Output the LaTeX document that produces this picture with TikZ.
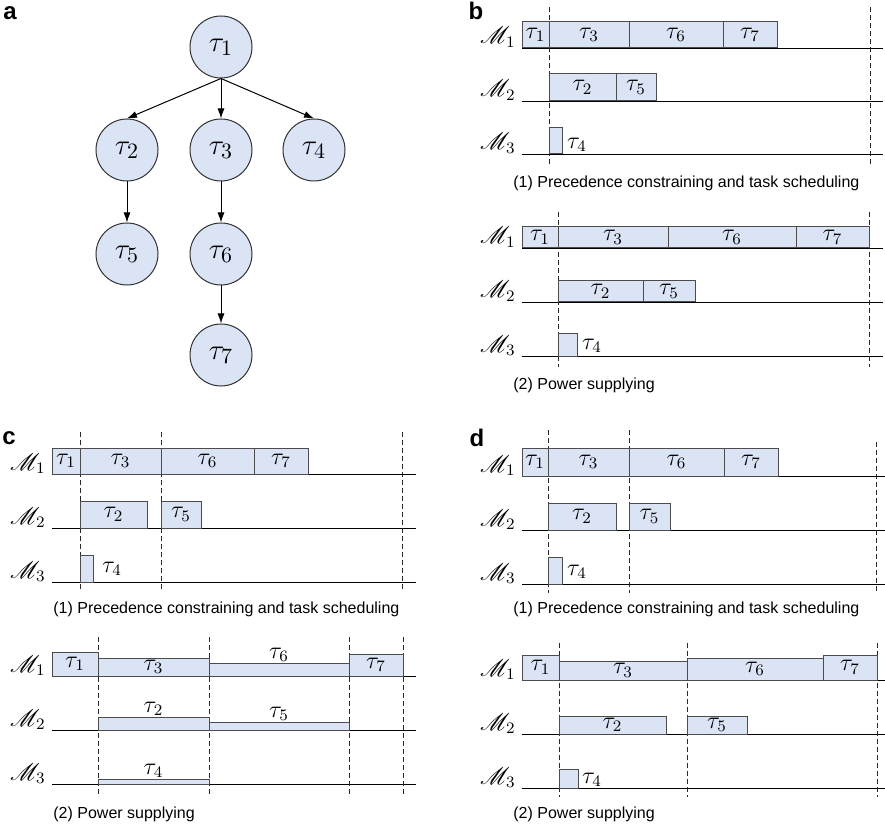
\documentclass[tikz,border=0pt]{standalone}
\usepackage{amsmath, amssymb}
\usepackage{mathrsfs}
\usepackage{fontspec}
\setmainfont{Liberation Sans}
\usepackage{tikz}
\usetikzlibrary{arrows.meta, positioning}

\definecolor{taskfill}{RGB}{218,228,245}

\begin{document}
\begin{tikzpicture}[x=0.5pt, y=-0.5pt, every node/.style={inner sep=0pt},
  task/.style={circle, draw=black!80, fill=taskfill, line width=0.5pt, minimum size=31pt, font=\fontsize{15}{17}\selectfont},
  dep/.style={-{Latex[length=5pt, width=3.5pt]}, line width=0.5pt},
  slot/.style={draw=black!70, fill=taskfill, line width=0.5pt},
  job/.style={font=\fontsize{12}{14}\selectfont},
  mach/.style={anchor=base east, font=\fontsize{12}{14}\selectfont},
  axis/.style={black, line width=0.45pt},
  sep/.style={black!85, line width=0.4pt, dash pattern=on 2.5pt off 1.5pt},
  captext/.style={anchor=west, font=\fontsize{8}{10}\selectfont},
  panel/.style={font=\fontsize{12}{12}\selectfont\bfseries}]
  \useasboundingbox (0,0) rectangle (885,829);

  % (a) precedence graph
  \node[panel] (la) at (10,13) {a};
  \node[task] (t1) at (221,47)  {$\tau_1$};
  \node[task] (t2) at (127,150) {$\tau_2$};
  \node[task] (t3) at (221,150) {$\tau_3$};
  \node[task] (t4) at (314,150) {$\tau_4$};
  \node[task] (t5) at (127,254) {$\tau_5$};
  \node[task] (t6) at (221,254) {$\tau_6$};
  \node[task] (t7) at (221,355) {$\tau_7$};
  \draw[dep] (t1.south) -- (t2.north);
  \draw[dep] (t1.south) -- (t3.north);
  \draw[dep] (t1.south) -- (t4.north);
  \draw[dep] (t2) -- (t5);
  \draw[dep] (t3) -- (t6);
  \draw[dep] (t6) -- (t7);

  % (b) schedule, then power supply
  \node[panel] (lb) at (476,11) {b};
  \foreach \y [count=\i] in {48,101,154} {
    \draw[axis] (522,\y) -- (883,\y);
    \node[mach] (b1m\i) at (516,\y-4) {$\mathscr{M}_\i$};
  }
  \draw[sep] (549,7) -- (549,167);
  \draw[sep] (870,7) -- (870,167);
  \foreach \a/\b/\t/\u/\k in {522/549/22/48/1, 549/629/22/48/3, 629/723/22/48/6, 723/777/22/48/7,
                              549/616/74/101/2, 616/656/74/101/5}
    \draw[slot] (\a,\t) rectangle node[job] (b1t\k) {$\tau_\k$} (\b,\u);
  \draw[slot] (549,128) rectangle (562,154);
  \node[job] (b1t4) at (577,145) {$\tau_4$};
  \node[captext] (b1cap) at (513,183) {(1) Precedence constraining and task scheduling};

  \foreach \y [count=\i] in {248,302,356} {
    \draw[axis] (522,\y) -- (883,\y);
    \node[mach] (b2m\i) at (516,\y-4) {$\mathscr{M}_\i$};
  }
  \draw[sep] (558,212) -- (558,367);
  \draw[sep] (869,212) -- (869,367);
  \foreach \a/\b/\t/\u/\k in {522/558/227/248/1, 558/668/227/248/3, 668/796/227/248/6, 796/869/227/248/7,
                              558/643/281/302/2, 643/695/281/302/5}
    \draw[slot] (\a,\t) rectangle node[job] (b2t\k) {$\tau_\k$} (\b,\u);
  \draw[slot] (558,334) rectangle (577,356);
  \node[job] (b2t4) at (592,346) {$\tau_4$};
  \node[captext] (b2cap) at (513,385) {(2) Power supplying};

  % (c) schedule, then power supply
  \node[panel] (lc) at (9,438) {c};
  \foreach \y [count=\i] in {474,528,582} {
    \draw[axis] (52,\y) -- (416,\y);
    \node[mach] (c1m\i) at (46,\y-4) {$\mathscr{M}_\i$};
  }
  \foreach \x in {80,161,402}
    \draw[sep] (\x,432) -- (\x,592);
  \foreach \a/\b/\t/\u/\k in {52/80/448/474/1, 80/161/448/474/3, 161/254/448/474/6, 254/308/448/474/7,
                              80/147/501/528/2, 161/201/501/528/5}
    \draw[slot] (\a,\t) rectangle node[job] (c1t\k) {$\tau_\k$} (\b,\u);
  \draw[slot] (80,555) rectangle (93,582);
  \node[job] (c1t4) at (112,569) {$\tau_4$};
  \node[captext] (c1cap) at (53,609) {(1) Precedence constraining and task scheduling};

  \foreach \y [count=\i] in {676,730,784} {
    \draw[axis] (52,\y) -- (416,\y);
    \node[mach] (c2m\i) at (46,\y-4) {$\mathscr{M}_\i$};
  }
  \foreach \x in {98,209,349,403}
    \draw[sep] (\x,637) -- (\x,794);
  \foreach \a/\b/\t/\u/\k in {52/98/652/676/1, 98/209/658/676/3, 349/403/654/676/7}
    \draw[slot] (\a,\t) rectangle node[job] (c2t\k) {$\tau_\k$} (\b,\u);
  % thin bars: label sits on top
  \foreach \a/\b/\t/\u/\k in {209/349/663/676/6, 98/209/717/730/2, 209/349/722/730/5, 98/209/779/784/4} {
    \draw[slot] (\a,\t) rectangle (\b,\u);
    \node[job] (c2t\k) at ({(\a+\b)/2},\t-8) {$\tau_\k$};
  }
  \node[captext] (c2cap) at (53,814) {(2) Power supplying};

  % (d) schedule, then power supply
  \node[panel] (ld) at (477,438) {d};
  \foreach \y [count=\i] in {476,530,584} {
    \draw[axis] (522,\y) -- (885,\y);
    \node[mach] (d1m\i) at (516,\y-4) {$\mathscr{M}_\i$};
  }
  \draw[sep] (548,430) -- (548,593);
  \draw[sep] (629,430) -- (629,593);
  \draw[sep] (876,442) -- (876,593);
  \foreach \a/\b/\t/\u/\k in {522/548/448/476/1, 548/629/448/476/3, 629/724/448/476/6, 724/778/448/476/7,
                              548/616/503/530/2, 629/670/503/530/5}
    \draw[slot] (\a,\t) rectangle node[job] (d1t\k) {$\tau_\k$} (\b,\u);
  \draw[slot] (548,557) rectangle (562,584);
  \node[job] (d1t4) at (577,572) {$\tau_4$};
  \node[captext] (d1cap) at (513,609) {(1) Precedence constraining and task scheduling};

  \foreach \y [count=\i] in {680,734,788} {
    \draw[axis] (522,\y) -- (885,\y);
    \node[mach] (d2m\i) at (516,\y-4) {$\mathscr{M}_\i$};
  }
  \foreach \x in {559,687,877}
    \draw[sep] (\x,643) -- (\x,797);
  \foreach \a/\b/\t/\u/\k in {522/559/655/680/1, 559/687/661/680/3, 687/823/658/680/6, 823/877/655/680/7,
                              559/666/716/734/2, 687/747/716/734/5}
    \draw[slot] (\a,\t) rectangle node[job] (d2t\k) {$\tau_\k$} (\b,\u);
  \draw[slot] (559,769) rectangle (578,788);
  \node[job] (d2t4) at (592,780) {$\tau_4$};
  \node[captext] (d2cap) at (513,814) {(2) Power supplying};
\end{tikzpicture}
\end{document}
